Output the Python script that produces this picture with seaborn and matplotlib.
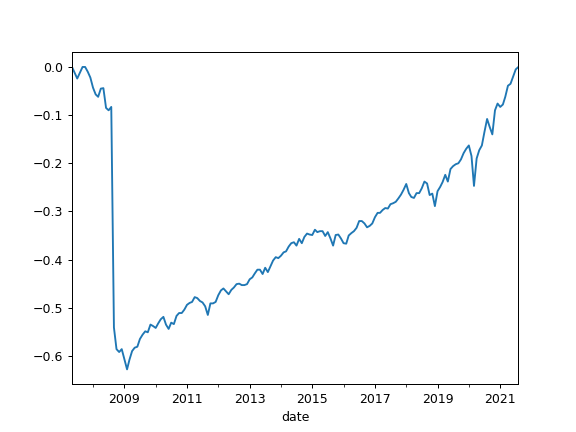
import seaborn as sns
import matplotlib
matplotlib.use("Agg")
import matplotlib.pyplot as plt
import pandas as pd

# monthly drawdown, May 2007 .. Aug 2021
start_month = "2007-05-01"
drawdown = [
    0.0, -0.012, -0.024, -0.012, 0.0, 0.0, -0.010, -0.022, -0.043, -0.057,
    -0.062, -0.045, -0.044, -0.085, -0.090, -0.083, -0.541, -0.586, -0.592, -0.586,
    -0.607, -0.628, -0.608, -0.590, -0.583, -0.581, -0.565, -0.556, -0.549, -0.551,
    -0.535, -0.538, -0.542, -0.532, -0.524, -0.519, -0.535, -0.544, -0.531, -0.534,
    -0.517, -0.511, -0.511, -0.504, -0.494, -0.490, -0.488, -0.478, -0.480, -0.486,
    -0.489, -0.497, -0.515, -0.491, -0.491, -0.488, -0.474, -0.464, -0.460, -0.466,
    -0.472, -0.463, -0.458, -0.451, -0.450, -0.453, -0.453, -0.451, -0.441, -0.437,
    -0.429, -0.421, -0.421, -0.430, -0.417, -0.426, -0.414, -0.402, -0.395, -0.397,
    -0.392, -0.385, -0.383, -0.373, -0.366, -0.364, -0.371, -0.357, -0.366, -0.353,
    -0.346, -0.348, -0.349, -0.338, -0.343, -0.341, -0.341, -0.351, -0.343, -0.356,
    -0.371, -0.349, -0.348, -0.356, -0.366, -0.367, -0.350, -0.345, -0.341, -0.334,
    -0.320, -0.320, -0.325, -0.333, -0.330, -0.325, -0.312, -0.303, -0.303, -0.297,
    -0.293, -0.294, -0.285, -0.283, -0.280, -0.273, -0.265, -0.255, -0.243, -0.262,
    -0.270, -0.272, -0.262, -0.262, -0.252, -0.238, -0.242, -0.266, -0.263, -0.289,
    -0.258, -0.249, -0.239, -0.224, -0.238, -0.212, -0.206, -0.202, -0.200, -0.192,
    -0.179, -0.170, -0.163, -0.185, -0.247, -0.190, -0.173, -0.163, -0.135, -0.108,
    -0.125, -0.140, -0.090, -0.076, -0.083, -0.078, -0.062, -0.039, -0.035, -0.020,
    -0.005, 0.0,
]
major_years = [2009, 2011, 2013, 2015, 2017, 2019, 2021]
minor_years = [2008, 2010, 2012, 2014, 2016, 2018, 2020]

df = pd.DataFrame({
    "date": pd.date_range(start_month, periods=len(drawdown), freq="MS"),
    "drawdown": drawdown,
})

fig, ax = plt.subplots(figsize=(6.4, 4.8), dpi=90)
sns.lineplot(data=df, x="date", y="drawdown", ax=ax, color="C0", linewidth=1.5)

ax.set_xlim(df["date"].iloc[0], df["date"].iloc[-1])
ax.set_xticks([pd.Timestamp(f"{y}-01-01") for y in major_years])
ax.set_xticklabels([str(y) for y in major_years])
ax.set_xticks([pd.Timestamp(f"{y}-01-01") for y in minor_years], minor=True)
ax.set_xlabel("date")
ax.set_ylabel("")

plt.savefig("out.png")
